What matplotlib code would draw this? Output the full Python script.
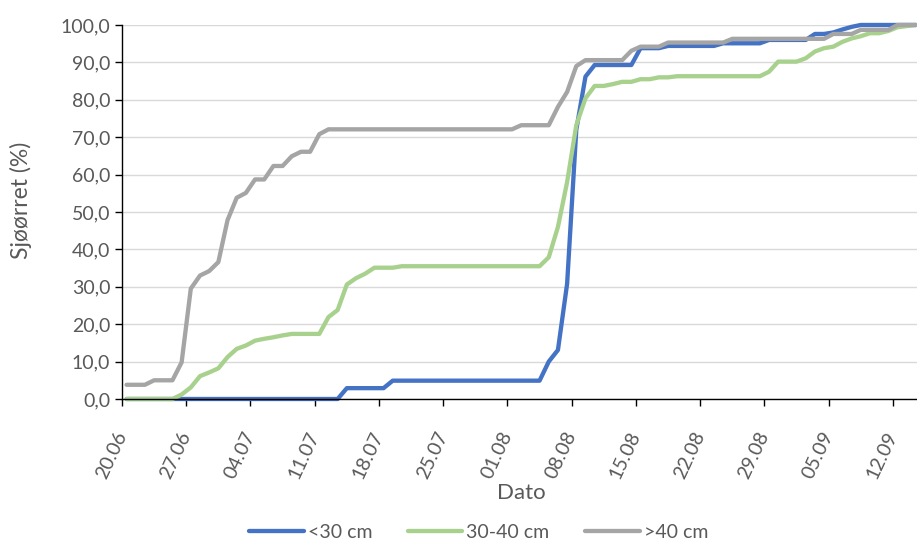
import matplotlib.pyplot as plt
import matplotlib.dates as mdates
import matplotlib.transforms as mtransforms
import pandas as pd

# daily cumulative share of sea trout (%) per length group, 20.06 - 14.09
dates = pd.date_range("2021-06-20", "2021-09-14", freq="D")

under_30 = ([0.0] * 24 + [2.9] * 5 + [4.9] * 17
            + [10.0, 13.1, 30.8, 72.0, 86.2] + [89.3] * 5 + [93.8] * 3
            + [94.4] * 6 + [95.1] * 5 + [96.0] * 5 + [97.6] * 2
            + [98.0, 98.8, 99.5] + [100.0] * 7)

from_30_to_40 = ([0.0] * 6
                 + [1.2, 3.1, 6.1, 7.1, 8.2, 11.2, 13.4, 14.3, 15.6, 16.1, 16.5, 17.0]
                 + [17.4] * 4 + [21.9, 23.8, 30.6, 32.3, 33.5] + [35.1] * 3
                 + [35.5] * 16 + [37.9, 46.0, 58.0, 73.2, 80.4] + [83.7] * 2
                 + [84.2] + [84.8] * 2 + [85.5] * 2 + [86.0] * 2 + [86.3] * 10
                 + [87.5] + [90.2] * 3 + [91.1, 92.9, 93.8, 94.2, 95.5, 96.4, 97.0]
                 + [97.8] * 2 + [98.4, 99.4, 99.7, 100.0])

over_40 = ([3.8] * 3 + [5.0] * 3
           + [9.8, 29.5, 33.0, 34.2, 36.6, 47.8, 53.8, 55.1] + [58.7] * 2
           + [62.3] * 2 + [64.9] + [66.1] * 2 + [70.8] + [72.1] * 21
           + [73.2] * 4 + [78.1, 82.1, 89.0] + [90.6] * 5 + [93.1]
           + [94.2] * 3 + [95.3] * 7 + [96.3] * 11 + [97.6] * 3
           + [98.7] * 4 + [100.0] * 3)

series = [
    ("<30 cm", under_30, "#4472C4"),
    ("30-40 cm", from_30_to_40, "#A9D18E"),
    (">40 cm", over_40, "#A5A5A5"),
]

text_color = "#595959"
plt.rcParams["font.family"] = ["Lato", "DejaVu Sans"]

fig = plt.figure(figsize=(9.17, 5.43), dpi=100)
ax = fig.add_axes([0.133, 0.2652, 0.8708, 0.6888])

# points sit in the middle of each day, ticks at day boundaries
x = dates + pd.Timedelta(hours=12)
for name, values, color in series:
    ax.plot(x, values, color=color, linewidth=3.1, label=name,
            solid_capstyle="round", solid_joinstyle="round", clip_on=False)

ax.set_xlim(dates[0], dates[-1] + pd.Timedelta(days=1))
ax.set_ylim(0, 100)
ax.set_yticks(range(0, 101, 10))
ax.set_yticklabels([f"{v:.1f}".replace(".", ",") for v in range(0, 101, 10)])

ticks = pd.date_range(dates[0], dates[-1], freq="7D")
ax.set_xticks(ticks)
ax.xaxis.set_major_formatter(mdates.DateFormatter("%d.%m"))
shift = mtransforms.ScaledTranslation(9 / 100, -3 / 100, fig.dpi_scale_trans)
for lbl in ax.get_xticklabels():
    lbl.set_rotation(65)
    lbl.set_ha("right")
    lbl.set_va("center")
    lbl.set_rotation_mode("anchor")
    lbl.set_transform(lbl.get_transform() + shift)

ax.grid(axis="y", color="#D9D9D9", linewidth=1.0)
ax.set_axisbelow(True)
for side in ["top", "right"]:
    ax.spines[side].set_visible(False)
for side in ["left", "bottom"]:
    ax.spines[side].set_color("black")
    ax.spines[side].set_linewidth(1.0)
ax.tick_params(axis="both", direction="out", length=5, width=1.0, color="black",
               labelcolor=text_color, labelsize=14)
ax.tick_params(axis="x", pad=19)

ax.set_xlabel("Dato", color=text_color, fontsize=16, labelpad=1)
ax.set_ylabel("Sjøørret (%)", color=text_color, fontsize=16.5)
ax.yaxis.set_label_coords(-0.113, 0.53)

fig.legend(loc="center", bbox_to_anchor=(0.522, 0.02), ncol=3, frameon=False,
           fontsize=14, handlelength=2.8, columnspacing=1.85, handletextpad=0.2,
           labelcolor=text_color)

fig.savefig("out.png", dpi=100)
